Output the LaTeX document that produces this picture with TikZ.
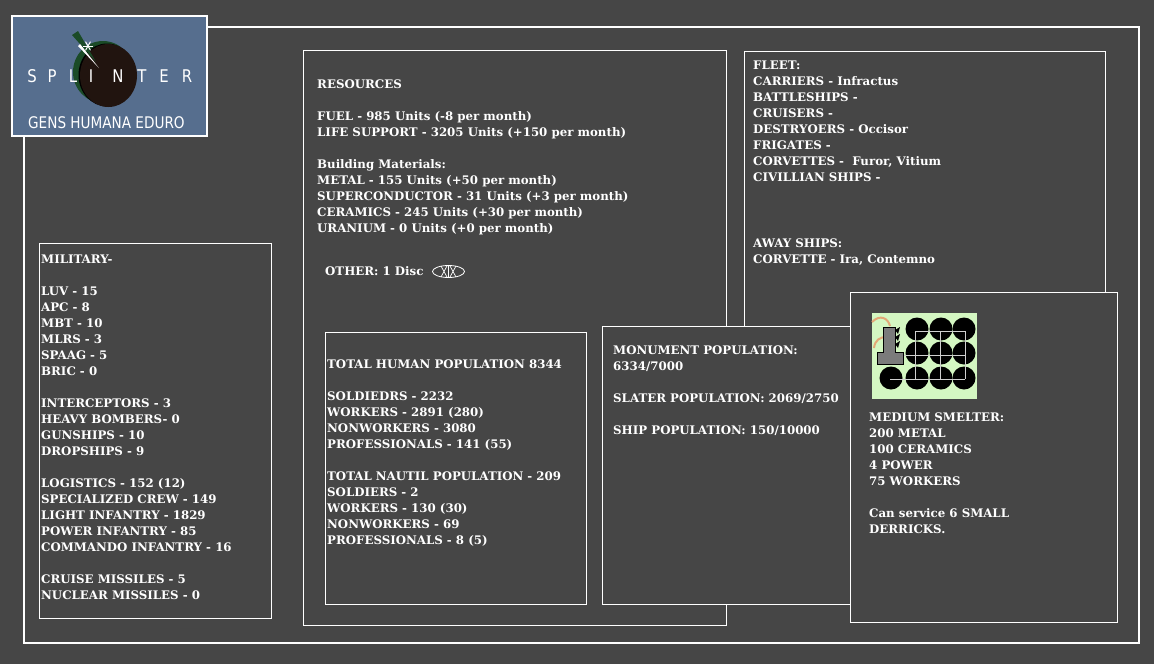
\documentclass[tikz,border=0pt]{standalone}
\usepackage{fontspec}
\setmainfont{DejaVu Serif}
\newfontfamily\logofont{DejaVu Sans}[FakeStretch=0.85]
\usepackage{xcolor}
\usepackage{tikz}
\usetikzlibrary{positioning}
\definecolor{panelgray}{HTML}{464646}
\definecolor{logoblue}{HTML}{566E8E}
\definecolor{orbbrown}{HTML}{21140F}
\definecolor{orbgreen}{HTML}{1B4B27}
\definecolor{smeltgreen}{HTML}{D4F7C2}
\definecolor{towergray}{HTML}{7B7B7B}
\definecolor{pipeorange}{HTML}{E3A877}
\definecolor{gridgray}{HTML}{CFCFCF}

\begin{document}
\begin{tikzpicture}
[x=1pt, y=-1pt,
panel/.style={draw=white, fill=panelgray, line width=0.9pt},
info/.style={anchor=base west, inner sep=0pt, align=left, text=white, font=\bfseries\fontsize{11.8}{16}\selectfont},
motto/.style={anchor=base, inner sep=0pt, text=white, font=\logofont\fontsize{17.5}{17.5}\selectfont}];
\fill[panelgray] (0,0) rectangle (1154,664);
\useasboundingbox (0,0) rectangle (1154,664);
\draw[white, line width=1.8pt] (24,27) rectangle (1139,643);

\draw[white, line width=1.8pt, fill=logoblue] (12,16) rectangle (207,136);
\fill[orbgreen] (103,72) ellipse [x radius=30, y radius=31];
\fill[black] (107,75) ellipse [x radius=28.5, y radius=31.5];
\fill[orbbrown] (108.5,75.5) ellipse [x radius=28.5, y radius=31.5];
\fill[orbgreen] (72,35) -- (78,31) -- (96,62) -- cycle;
\fill[white] (78,46) -- (80,44) -- (99,68) -- cycle;
\foreach \a in {0,60,120} \draw[white, line width=1pt] (88,46) +(\a:5) -- +(\a+180:5);
\foreach \lx/\ch [count=\i] in {32/S,52/P,73/L,91/I,118/N,142/T,164/E,187/R}
  \node[motto] (splinter\i) at (\lx,82) {\ch};
\node[motto, font=\logofont\fontsize{16}{16}\selectfont, anchor=base west] (motto) at (28,128) {GENS HUMANA EDURO};

\draw[panel] (303,50) rectangle (726,625);
\node[info] (resources) at (317,232) {RESOURCES\\[16pt]
FUEL - 985 Units (-8 per month)\\
LIFE SUPPORT - 3205 Units (+150 per month)\\[16pt]
Building Materials:\\
METAL - 155 Units (+50 per month)\\
SUPERCONDUCTOR - 31 Units (+3 per month)\\
CERAMICS - 245 Units (+30 per month)\\
URANIUM - 0 Units (+0 per month)};
\node[info] (other) at (325,275) {OTHER: 1 Disc};
\draw[white, line width=0.8pt] (448.5,271.5) ellipse [x radius=16, y radius=6];
\draw[white, line width=0.7pt] (441,266) -- (447,277) (441,277) -- (447,266) (448.5,266) -- (448.5,277) (450,266) -- (456,277) (450,277) -- (456,266);

\draw[panel] (744,51) rectangle (1105,500);
\node[info] (fleet) at (753,181) {FLEET:\\
CARRIERS - Infractus\\
BATTLESHIPS -\\
CRUISERS -\\
DESTRYOERS - Occisor\\
FRIGATES -\\
CORVETTES -\ \ Furor, Vitium\\
CIVILLIAN SHIPS -};
\node[info] (away) at (753,263) {AWAY SHIPS:\\
CORVETTE - Ira, Contemno};

\draw[panel] (39,243) rectangle (271,618);
\node[info] (military) at (41,599) {MILITARY-\\[16pt]
LUV - 15\\
APC - 8\\
MBT - 10\\
MLRS - 3\\
SPAAG - 5\\
BRIC - 0\\[16pt]
INTERCEPTORS - 3\\
HEAVY BOMBERS- 0\\
GUNSHIPS - 10\\
DROPSHIPS - 9\\[16pt]
LOGISTICS - 152 (12)\\
SPECIALIZED CREW - 149\\
LIGHT INFANTRY - 1829\\
POWER INFANTRY - 85\\
COMMANDO INFANTRY - 16\\[16pt]
CRUISE MISSILES - 5\\
NUCLEAR MISSILES - 0};

\draw[panel] (325,332) rectangle (586,604);
\node[info] (humans) at (327,544) {TOTAL HUMAN POPULATION 8344\\[16pt]
SOLDIEDRS - 2232\\
WORKERS - 2891 (280)\\
NONWORKERS - 3080\\
PROFESSIONALS - 141 (55)\\[16pt]
TOTAL NAUTIL POPULATION - 209\\
SOLDIERS - 2\\
WORKERS - 130 (30)\\
NONWORKERS - 69\\
PROFESSIONALS - 8 (5)};

\draw[panel] (602,326) rectangle (852,604);
\node[info] (monument) at (613,434) {MONUMENT POPULATION:\\
6334/7000\\[16pt]
SLATER POPULATION: 2069/2750\\[16pt]
SHIP POPULATION: 150/10000};

\draw[panel] (850,292) rectangle (1117,622);
\fill[smeltgreen] (872,313) rectangle (977,399);
\foreach \cx/\cy in {917/329,941/329,964/329,917/353,941/353,964/353,891/378,917/378,941/378,964/378}
  \fill[black] (\cx,\cy) circle (11.5);
\draw[gridgray, line width=1pt] (915,331) -- (965,331) (903,355) -- (965,355) (890,379) -- (965,379) (915,331) -- (915,379) (940,331) -- (940,379) (965,331) -- (965,379);
\draw[pipeorange, line width=2pt] (872,322) .. controls (880,314) and (888,318) .. (890,326) (874,348) .. controls (875,340) and (880,337) .. (886,337);
\draw[black, fill=towergray, line width=0.8pt] (883,327) -- (895,327) -- (895,352) -- (903,352) -- (903,364) -- (877,364) -- (877,352) -- (883,352) -- cycle;
\fill[black] (895,330) -- (900,327) -- (898,334) -- cycle (895,337) -- (900,334) -- (898,341) -- cycle (895,344) -- (900,341) -- (898,348) -- cycle;
\node[info] (smelter) at (869,533) {MEDIUM SMELTER:\\
200 METAL\\
100 CERAMICS\\
4 POWER\\
75 WORKERS\\[16pt]
Can service 6 SMALL\\
DERRICKS.};
\end{tikzpicture}
\end{document}
